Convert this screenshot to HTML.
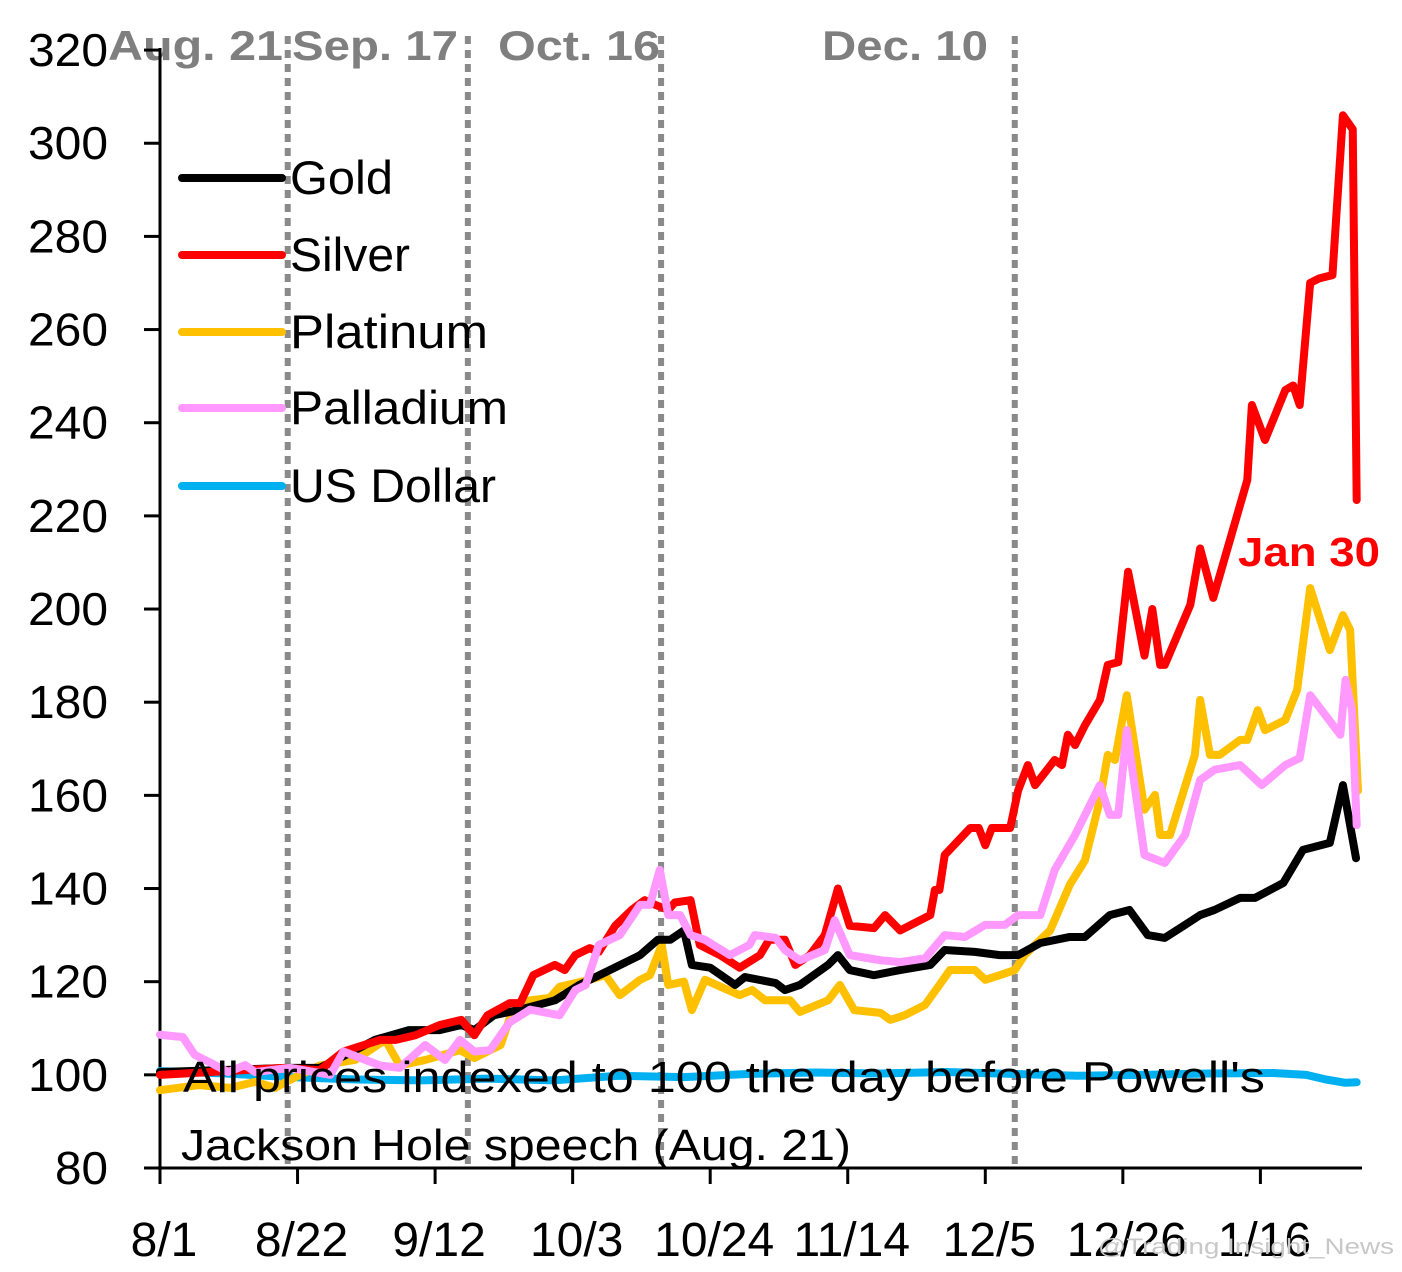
<!DOCTYPE html>
<html><head><meta charset="utf-8"><style>
html,body{margin:0;padding:0;background:#fff;}
svg{display:block;font-family:"Liberation Sans",sans-serif;}
</style></head><body>
<svg id="chart" width="1402" height="1272" viewBox="0 0 1402 1272"></svg>
<script>
const yTicks=[80,100,120,140,160,180,200,220,240,260,280,300,320];
const xTickLabels=["8/1","8/22","9/12","10/3","10/24","11/14","12/5","12/26","1/16"];
const xTickDays=[0,21,42,63,84,105,126,147,168];
const eventDays=[19.5,47,76.5,130.5];
const eventLabels=["Aug. 21","Sep. 17","Oct. 16","Dec. 10"];
const silverDays=[0,19,24.4,28,33.6,36,39,42.7,46,48,50,53.4,55,57,60.3,61.8,63.4,65.6,67,69.5,72,74,75.6,77.6,78.6,81,82.4,85.5,88.5,91.6,93,95.4,97,99.2,101.5,103.5,105.3,109,110.7,113,117.6,118.3,119,119.8,123.7,125,126,127,129.8,131,132.5,133.6,136.6,137.7,138.6,139.7,141.2,143.5,144.7,146.3,147.8,150.3,151.5,152.7,153.4,157.3,158.8,160.8,166,166.7,168.7,171.8,173,174,175.6,177,179,180.6,182.1,182.7];
const silverVals=[100,101.5,101,105,107.5,107.5,108.5,110.7,111.8,108.5,112.8,115.4,115.4,121.4,123.6,122.5,125.7,127.2,126.4,132,135.4,137.5,136.5,135.4,137,137.5,127.9,125.7,123,125.7,129,129,123.6,125.7,130,140,132,131.5,134.3,131,134.3,139.7,139.7,147.2,153,153,149.3,153,153,161,166.5,162.2,167.6,166.5,173,170.8,175,180.5,188,188.6,208,190,200,188,188,200.9,213,202.4,227.7,243.8,236.3,247,248,243.8,270,271,271.7,306,303,223.4];
const goldDays=[0,19.8,24.4,28,32.8,38,42.7,46,48,51,55,60.3,64,68.7,73.3,76,77.9,80,81.2,84,87.8,89.3,94,95.4,97.7,102,103.5,105.3,109,113,117.6,119.8,124.4,128.2,131,134.4,138.9,141.2,145,148,150.8,153.4,156.5,158.8,161,164.9,167.2,171.5,174.5,178.6,180.6,182.6];
const goldVals=[100.6,101.5,101.5,104,107.5,109.6,109.6,110.7,109.6,112.8,114,116,119.3,122.5,125.7,129,129,131,123.6,123,119.3,121,119.7,118.2,119.3,123.6,125.7,122.5,121.4,122.5,123.6,126.8,126.4,125.7,125.7,128.3,129.6,129.6,134.3,135.4,130,129.4,132.2,134.3,135.4,138,138,141.2,148.3,149.8,162.2,146.5];
const platDays=[0,6,10.7,14.5,17.6,19.8,24.4,29.8,34.4,36.6,40.5,45.8,48,52,53.4,56.5,59.5,61,65.6,68,70.2,73.3,74.8,76.6,77.6,80,81.2,83.2,88.5,90.4,92.4,96.2,97.7,102,103.8,106,110,111.5,113.7,116.8,119,120.6,124.4,126,128.2,130.5,132,134.4,135.9,138.9,141.2,143.5,144.7,145.8,147.6,150.3,151.9,152.7,154.2,158,158.8,160.3,161.8,164.9,166,167.6,168.7,171.8,173.6,175.6,178.6,180.6,181.7,182.9];
const platVals=[96.7,97.8,97.2,98.5,97.2,98.9,102,103.2,107.5,102,103.2,105.3,103.6,106.4,112.2,116,116.5,118.9,120.4,121.4,117.1,120.4,121.4,127.9,119.3,120,113.9,120.4,117.1,118.2,116,116,113.5,116,119.3,113.9,113.3,111.8,112.8,115,119.3,122.5,122.5,120.4,121.4,122.5,125.7,129,131,140.8,146,159,168.7,167.6,181.5,156.9,160.1,151.5,151.5,168.7,180.5,168.7,168.7,171.9,171.9,178.3,174,176.2,182.6,204.5,191.2,198.7,195.5,161];
const pallDays=[0,3.5,5.3,8.4,10.4,13,14.5,19.8,26,28,33.6,36.6,40.5,43.5,45.8,48,50.4,53.4,56.5,61,63.4,65,67,70.2,73.3,74.8,76.3,77.6,79.4,81,83.2,87,90,90.8,94,95.4,97.7,101.5,103,105.3,110,113,116.8,119.8,122.9,126,129,131,134.4,136.6,139.7,143.5,145,146.3,147.6,150.3,153.4,156.5,158.8,161,164.9,168.2,171.8,174,175.6,180.2,181,182,182.7];
const pallVals=[108.6,108.1,104.3,102.1,100.6,102.1,100.6,101.5,100,105,102,101.5,106.4,103.2,107.5,105,105.3,111.3,114,112.8,118.2,119.3,127.9,130,136.5,136.5,144,134.3,134.3,130,129,125.7,127.9,130,129.4,126.8,124.6,126.8,133.2,125.7,124.6,124.2,125,130,129.6,132.2,132.2,134.3,134.3,144,151.5,162.2,155.8,155.8,174,147.2,145.5,151.5,163.3,165.5,166.5,162.2,166.5,168,181.5,173,184.8,178.3,153.6];
const usdDays=[0,10,20,30,40,50,60,70,80,90,100,110,120,130,140,150,160,170,175,178,181,182.7];
const usdVals=[100.8,100.3,99.5,99,98.8,99.2,98.8,99.8,99.5,100.2,100.5,100.3,100.6,100.2,99.8,100,100.3,100.4,100,99,98.3,98.4];

const NS="http://www.w3.org/2000/svg";
const svg=document.getElementById('chart');
const X0=160,PXD=6.55,Y80=1168,PXU=4.658;
function xs(d){return X0+d*PXD;}
function ys(v){return Y80-(v-80)*PXU;}
function mk(tag,attrs,parent){const e=document.createElementNS(NS,tag);for(const k in attrs)e.setAttribute(k,attrs[k]);(parent||svg).appendChild(e);return e;}

eventDays.forEach((d,i)=>{
  const l=mk('line',{x1:xs(d),x2:xs(d),y1:36,y2:1166,stroke:'#8a8a8a','stroke-width':6,'stroke-dasharray':'8 6'});
  
  
});
const evX=[108,292,498,822];
const evW=[175,166,162,166];
eventLabels.forEach((t,i)=>{
  const e=mk('text',{x:evX[i],y:60,'font-size':42,'font-weight':'bold',fill:'#7f7f7f',textLength:evW[i],lengthAdjust:'spacingAndGlyphs'});
  e.textContent=t;
  
  
});
const ya=mk('line',{x1:X0,x2:X0,y1:48,y2:1170,stroke:'#000','stroke-width':3});


const xa=mk('line',{x1:X0,x2:1362,y1:Y80,y2:Y80,stroke:'#000','stroke-width':3});


yTicks.forEach(v=>{
  const t=mk('line',{x1:X0-16,x2:X0,y1:ys(v),y2:ys(v),stroke:'#000','stroke-width':3});
  
  
  const s=String(v);
  const l=mk('text',{x:108,y:ys(v)+16,'text-anchor':'end','font-size':46,fill:'#000',textLength:s.length*27-1,lengthAdjust:'spacingAndGlyphs'});
  l.textContent=s;
  
  
});
xTickDays.forEach((d,i)=>{
  const t=mk('line',{x1:xs(d),x2:xs(d),y1:Y80,y2:Y80+16,stroke:'#000','stroke-width':3});
  
  
  const l=mk('text',{x:xs(d)+4,y:1256,'text-anchor':'middle','font-size':48,fill:'#000'});
  l.textContent=xTickLabels[i];
  
  
});
function series(days,vals,color,name){
  const p=mk('polyline',{points:days.map((d,i)=>xs(d)+','+ys(vals[i])).join(' '),fill:'none',stroke:color,'stroke-width':8,'stroke-linejoin':'round','stroke-linecap':'round'});
  
  
}
series(usdDays,usdVals,'#00b0f0','usd-line');
series(platDays,platVals,'#ffc000','platinum-line');
series(goldDays,goldVals,'#000000','gold-line');
series(silverDays,silverVals,'#ff0000','silver-line');
series(pallDays,pallVals,'#ff99ff','palladium-line');
const leg=[['Gold','#000',103],['Silver','#ff0000',120],['Platinum','#ffc000',198],['Palladium','#ff99ff',218],['US Dollar','#00b0f0',206]];
const legY=[178,255,332,408,486];
leg.forEach((e,i)=>{
  const l=mk('line',{x1:182,x2:282,y1:legY[i],y2:legY[i],stroke:e[1],'stroke-width':8,'stroke-linecap':'round'});
  
  
  const t=mk('text',{x:290,y:legY[i]+16,'font-size':47,fill:'#000',textLength:e[2],lengthAdjust:'spacingAndGlyphs'});
  t.textContent=e[0];
  
  
});
const n1=mk('text',{x:183,y:1092,'font-size':44,fill:'#000',textLength:1082,lengthAdjust:'spacingAndGlyphs'});
n1.textContent="All prices indexed to 100 the day before Powell's";


const n2=mk('text',{x:181,y:1160,'font-size':44,fill:'#000',textLength:670,lengthAdjust:'spacingAndGlyphs'});
n2.textContent="Jackson Hole speech (Aug. 21)";


const j=mk('text',{x:1238,y:566,'font-size':41,'font-weight':'bold',fill:'#ff0000',textLength:142,lengthAdjust:'spacingAndGlyphs'});
j.textContent="Jan 30";


const w=mk('text',{x:1098,y:1254,'font-size':22,fill:'#c8c8c8',textLength:296,lengthAdjust:'spacingAndGlyphs'});
w.textContent="@Trading Insight_News";


</script>
</body></html>
